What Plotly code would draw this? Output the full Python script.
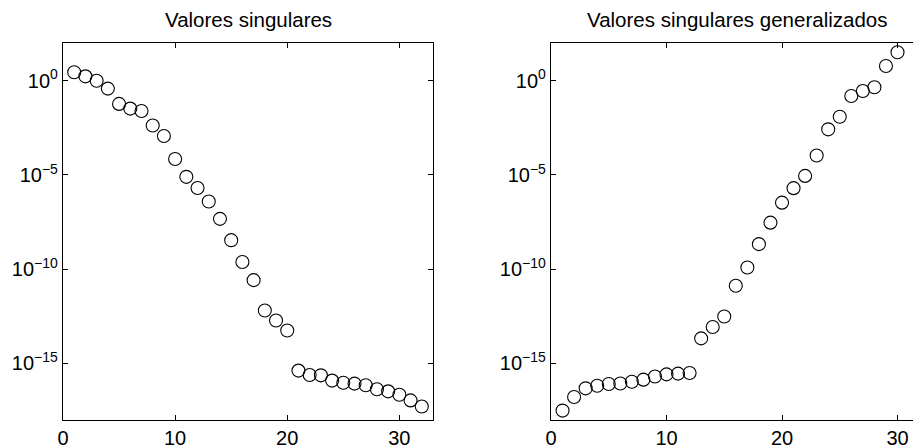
import plotly.graph_objects as go

# Left panel: singular values (log10 values)
sv_index = list(range(1, 33))
sv_log10 = [0.45, 0.23, 0.0, -0.42, -1.23, -1.48, -1.61, -2.38, -2.93, -4.15,
            -5.10, -5.69, -6.41, -7.33, -8.46, -9.62, -10.58, -12.19, -12.72, -13.25,
            -15.38, -15.61, -15.63, -15.91, -16.02, -16.07, -16.16, -16.37, -16.48, -16.66,
            -16.96, -17.28]

# Right panel: generalized singular values
gsv_index = list(range(1, 31))
gsv_log10 = [-17.50, -16.78, -16.32, -16.18, -16.09, -16.06, -15.97, -15.86, -15.69, -15.58,
             -15.54, -15.51, -13.67, -13.07, -12.51, -10.88, -9.91, -8.67, -7.53, -6.47,
             -5.70, -5.05, -3.97, -2.58, -1.91, -0.81, -0.55, -0.35, 0.78, 1.51]

sv_values = [10 ** v for v in sv_log10]
gsv_values = [10 ** v for v in gsv_log10]

titles = ["Valores singulares", "Valores singulares generalizados"]
ytick_exps = [-15, -10, -5, 0]
ytick_text = ["10<sup>\u221215</sup>", "10<sup>\u221210</sup>", "10<sup>\u22125</sup>", "10<sup>0</sup>"]
xtick_vals = [0, 10, 20, 30]

W, H = 913, 448
FONT = "Liberation Sans, Arial, Helvetica, sans-serif"

fig = go.Figure()
marker = dict(symbol="circle-open", size=13, color="black", line=dict(width=1.1, color="black"))
fig.add_trace(go.Scatter(x=sv_index, y=sv_values, mode="markers", marker=marker,
                         xaxis="x", yaxis="y", showlegend=False, cliponaxis=False))
fig.add_trace(go.Scatter(x=gsv_index, y=gsv_values, mode="markers", marker=marker,
                         xaxis="x2", yaxis="y2", showlegend=False, cliponaxis=False))

ydom = [1 - 420 / H, 1 - 43 / H]
common_x = dict(tickmode="array", tickvals=xtick_vals, ticks="inside", ticklen=5,
                tickwidth=1, tickcolor="black", showline=True, linecolor="black",
                linewidth=1.3, showgrid=False, zeroline=False, automargin=False,
                tickfont=dict(family=FONT, size=20, color="black"))
common_y = dict(type="log", range=[-18, 2], tickmode="array",
                tickvals=[10 ** e for e in ytick_exps], ticktext=ytick_text,
                ticks="inside", ticklen=5, tickwidth=1, tickcolor="black",
                showline=True, linecolor="black", linewidth=1.3, showgrid=False,
                zeroline=False, automargin=False,
                tickfont=dict(family=FONT, size=20, color="black"))

fig.update_layout(
    width=W, height=H,
    margin=dict(l=0, r=0, t=0, b=0, autoexpand=False),
    paper_bgcolor="white", plot_bgcolor="white",
    font=dict(family=FONT, color="black"),
    xaxis=dict(domain=[63 / W, 433 / W], range=[0, 33], mirror="ticks", anchor="y", **common_x),
    yaxis=dict(domain=ydom, mirror="ticks", anchor="x", **common_y),
    xaxis2=dict(domain=[551 / W, 1.0], range=[0, (913 - 551) / 11.55], mirror="ticks",
                anchor="y2", **common_x),
    yaxis2=dict(domain=ydom, mirror=False, anchor="x2", **common_y),
    annotations=[
        dict(text=titles[0], x=248 / W, y=1 - 20 / H, xref="paper", yref="paper",
             xanchor="center", yanchor="middle", showarrow=False,
             font=dict(family=FONT, size=20.5, color="black")),
        dict(text=titles[1], x=737 / W, y=1 - 20 / H, xref="paper", yref="paper",
             xanchor="center", yanchor="middle", showarrow=False,
             font=dict(family=FONT, size=20.5, color="black")),
    ],
)

fig.write_html("out.html", config={"displayModeBar": False},
               post_script="document.body.style.margin='0';document.body.style.overflow='hidden';")
